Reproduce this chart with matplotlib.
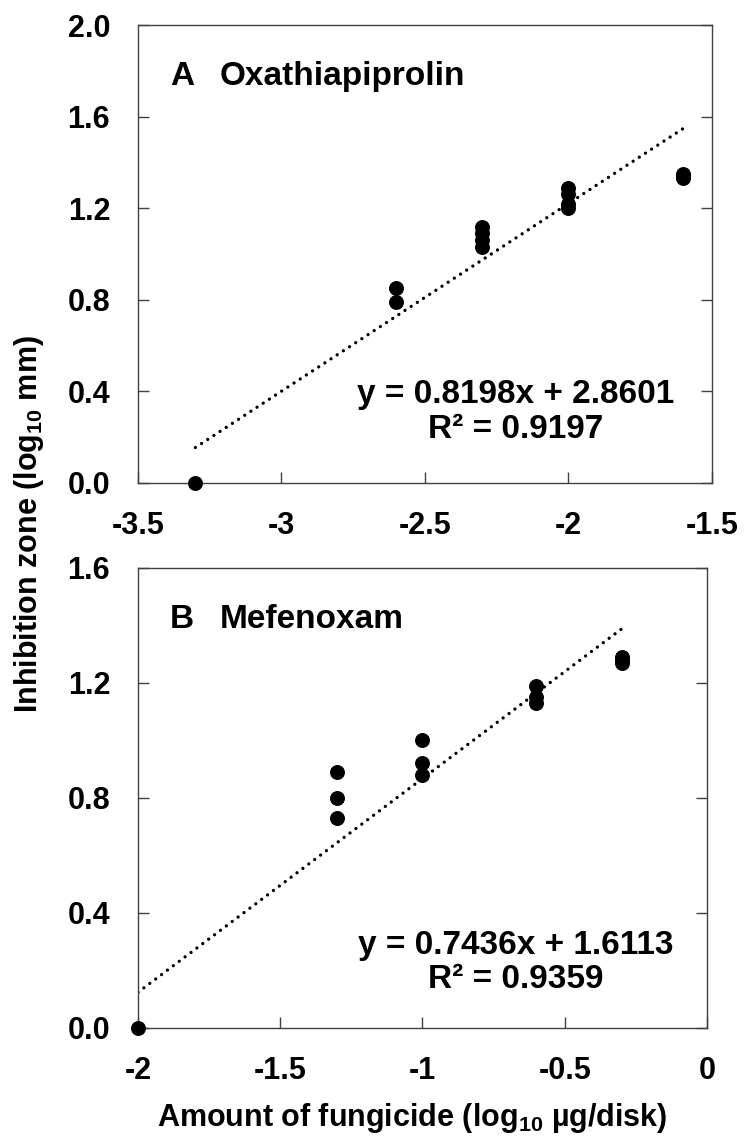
import numpy as np
import matplotlib
matplotlib.use("Agg")
import matplotlib.pyplot as plt

plt.rcParams["font.family"] = ["Liberation Sans", "DejaVu Sans"]
plt.rcParams["font.weight"] = "bold"
plt.rcParams["mathtext.fontset"] = "custom"
plt.rcParams["mathtext.rm"] = "Liberation Sans:bold"
plt.rcParams["mathtext.default"] = "rm"

# Panel A: oxathiapiprolin (log10 ug/disk vs log10 mm)
oxa_x = [-3.3, -2.6, -2.6, -2.3, -2.3, -2.3, -2.3, -2.0, -2.0, -2.0, -2.0, -1.6, -1.6, -1.6]
oxa_y = [0.0, 0.85, 0.79, 1.12, 1.09, 1.06, 1.03, 1.29, 1.26, 1.22, 1.20, 1.33, 1.34, 1.35]
oxa_slope, oxa_icept, oxa_r2 = 0.8198, 2.8601, 0.9197

# Panel B: mefenoxam
mef_x = [-2.0, -1.3, -1.3, -1.3, -1.0, -1.0, -1.0, -0.6, -0.6, -0.6, -0.3, -0.3, -0.3]
mef_y = [0.0, 0.89, 0.80, 0.73, 1.00, 0.92, 0.88, 1.19, 1.15, 1.13, 1.29, 1.28, 1.27]
mef_slope, mef_icept, mef_r2 = 0.7436, 1.6113, 0.9359

fig = plt.figure(figsize=(7.45, 11.38), dpi=100)
ax1 = fig.add_axes([0.1852, 0.5756, 0.7705, 0.4024])
ax2 = fig.add_axes([0.1852, 0.0967, 0.7638, 0.4042])

spine_col = "#404040"


def draw_panel(ax, xs, ys, slope, icept, r2, letter, name, xlim, ylim, xticks, yticks,
               xlabels, eq_pos):
    ax.scatter(xs, ys, s=95, color="black", zorder=3, clip_on=False)
    # linear trendline over the range of doses
    fx = np.array([min(xs), max(xs)])
    ax.plot(fx, slope * fx + icept, color="black", lw=2.4,
            linestyle=(0, (0.01, 2.2)), dash_capstyle="round", zorder=2)
    ax.set_xlim(*xlim)
    ax.set_ylim(*ylim)
    ax.set_xticks(xticks)
    ax.set_xticklabels(xlabels)
    ax.set_yticks(yticks)
    ax.set_yticklabels([f"{v:.1f}" for v in yticks])
    ax.tick_params(axis="both", direction="in", length=8, width=1, color=spine_col,
                   labelsize=22, pad=20)
    ax.tick_params(axis="y", right=True)
    for sp in ax.spines.values():
        sp.set_color(spine_col)
        sp.set_linewidth(1.0)
    ax.text(0.056, 0.887, letter, transform=ax.transAxes, fontsize=24,
            fontweight="bold", ha="left", va="center")
    ax.text(0.143, 0.887, name, transform=ax.transAxes, fontsize=24,
            fontweight="bold", ha="left", va="center")
    ax.text(eq_pos[0], eq_pos[1], f"y = {slope:.4f}x + {icept:.4f}\nR² = {r2:.4f}",
            transform=ax.transAxes, fontsize=24, fontweight="bold",
            ha="center", va="center", multialignment="center", linespacing=1.15)


draw_panel(ax1, oxa_x, oxa_y, oxa_slope, oxa_icept, oxa_r2, "A", "Oxathiapiprolin",
           (-3.5, -1.5), (0, 2.0), [-3.5, -3, -2.5, -2, -1.5], [0, 0.4, 0.8, 1.2, 1.6, 2.0],
           ["-3.5", "-3", "-2.5", "-2", "-1.5"], (0.658, 0.155))
draw_panel(ax2, mef_x, mef_y, mef_slope, mef_icept, mef_r2, "B", "Mefenoxam",
           (-2, 0), (0, 1.6), [-2, -1.5, -1, -0.5, 0], [0, 0.4, 0.8, 1.2, 1.6],
           ["-2", "-1.5", "-1", "-0.5", "0"], (0.664, 0.142))

fig.text(29 / 745, 1 - 524 / 1138, r"Inhibition zone (log$_{10}$ mm)", rotation=90,
         fontsize=22, fontweight="bold", ha="center", va="center")
fig.text(412 / 745, 1 - 1118 / 1138, r"Amount of fungicide (log$_{10}$ µg/disk)",
         fontsize=22, fontweight="bold", ha="center", va="center")

fig.savefig("out.png", dpi=100)
